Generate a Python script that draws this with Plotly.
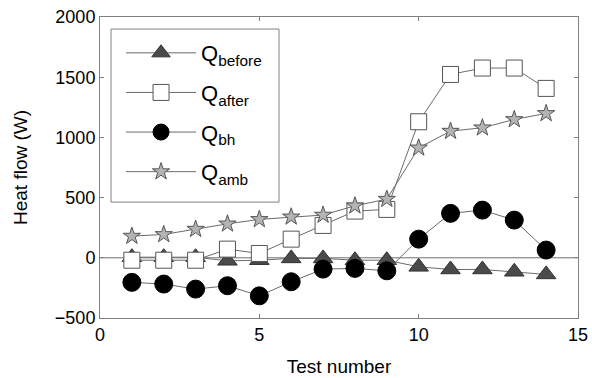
import plotly.graph_objects as go

tests = list(range(1, 15))
q_before = [5, 5, 5, -25, -20, -5, -5, -20, -20, -75, -97, -97, -116, -138]
q_after = [-20, -20, -20, 72, 36, 155, 269, 388, 402, 1130, 1523, 1576, 1576, 1407]
q_bh = [-204, -218, -260, -232, -316, -199, -94, -88, -108, 155, 369, 396, 313, 64]
q_amb = [180, 194, 238, 282, 319, 340, 355, 432, 487, 913, 1052, 1080, 1149, 1199]

x_ticks = [0, 5, 10, 15]
y_ticks = [-500, 0, 500, 1000, 1500, 2000]

line_col = "#6a6a6a"
fig = go.Figure()

series = [
    ("Q<sub>before</sub>", q_before, dict(symbol="triangle-up", size=17, color="#4a4a4a", line=dict(color="#333333", width=1))),
    ("Q<sub>after</sub>", q_after, dict(symbol="square", size=16, color="white", line=dict(color="#555555", width=1))),
    ("Q<sub>bh</sub>", q_bh, dict(symbol="circle", size=18, color="black", line=dict(color="black", width=1))),
    ("Q<sub>amb</sub>", q_amb, dict(symbol="star", size=13, color="#b4b4b4", line=dict(color="#555555", width=1))),
]

fig.add_shape(type="line", xref="paper", yref="y", x0=0, x1=1, y0=0, y1=0,
              line=dict(color="#707070", width=1), layer="below")
# legend frame
fig.add_shape(type="rect", xref="paper", yref="paper", x0=0.023, x1=0.3745, y0=0.385, y1=0.96,
              line=dict(color="#808080", width=1), fillcolor="white", layer="below")

for i, (name, vals, mk) in enumerate(series):
    fig.add_trace(go.Scatter(x=tests, y=vals, name=name, mode="lines+markers",
                             line=dict(color=line_col, width=1), marker=mk,
                             legendgroup=f"g{i}"))

axis_common = dict(showgrid=False, zeroline=False, showline=True, linecolor="#808080",
                   linewidth=1, mirror="ticks", ticks="inside", ticklen=4, tickcolor="#808080",
                   automargin=False,
                   tickfont=dict(family="Liberation Sans, Arial", size=18, color="black"))

fig.update_xaxes(range=[0, 15], tickvals=x_ticks, **axis_common,
                 title=dict(text="Test number", font=dict(family="Liberation Sans, Arial", size=19, color="black"), standoff=16))
fig.update_yaxes(range=[-500, 2000], tickvals=y_ticks, **axis_common,
                 title=dict(text="Heat flow (W)", font=dict(family="Liberation Sans, Arial", size=19, color="black"), standoff=22))

fig.update_layout(
    width=592, height=378,
    margin=dict(l=100, r=14, t=17, b=60),
    paper_bgcolor="white", plot_bgcolor="white",
    showlegend=True,
    legend=dict(x=0.044, y=0.95, xanchor="left", yanchor="top",
                borderwidth=0, bgcolor="rgba(0,0,0,0)",
                font=dict(family="Liberation Sans, Arial", size=22, color="black"),
                tracegroupgap=8, itemwidth=70),
)

fig.write_html("out.html")
